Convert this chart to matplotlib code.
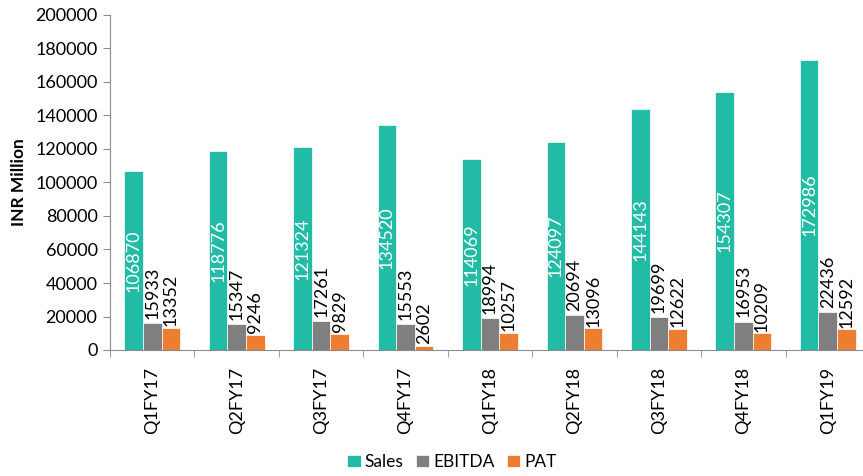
import matplotlib
matplotlib.use("Agg")
import matplotlib.pyplot as plt
import numpy as np

# ── Data ─────────────────────────────────────────────────────────────────────
quarters = ["Q1FY17", "Q2FY17", "Q3FY17", "Q4FY17", "Q1FY18",
            "Q2FY18", "Q3FY18", "Q4FY18", "Q1FY19"]
sales = [106870, 118776, 121324, 134520, 114069, 124097, 144143, 154307, 172986]
ebitda = [15933, 15347, 17261, 15553, 18994, 20694, 19699, 16953, 22436]
pat = [13352, 9246, 9829, 2602, 10257, 13096, 12622, 10209, 12592]

SALES_COLOR = "#21BBA6"
EBITDA_COLOR = "#7F7F7F"
PAT_COLOR = "#ED7D31"
AXIS_COLOR = "#8C8C8C"

plt.rcParams["font.family"] = ["Lato", "DejaVu Sans"]

fig = plt.figure(figsize=(8.63, 4.76), dpi=100)
# plot area runs slightly past the right edge, as in the reference
ax = fig.add_axes([110 / 863, 126 / 476, 760 / 863, 335 / 476])

x = np.arange(len(quarters))
w = 0.22

b1 = ax.bar(x - w, sales, w, color=SALES_COLOR, edgecolor="white", linewidth=0.5, label="Sales")
b2 = ax.bar(x, ebitda, w, color=EBITDA_COLOR, edgecolor="white", linewidth=0.5, label="EBITDA")
b3 = ax.bar(x + w, pat, w, color=PAT_COLOR, edgecolor="white", linewidth=0.5, label="PAT")

ax.bar_label(b1, labels=[str(v) for v in sales], label_type="center",
             rotation=90, color="white", fontsize=13)
ax.bar_label(b2, labels=[str(v) for v in ebitda], padding=3,
             rotation=90, color="black", fontsize=13)
ax.bar_label(b3, labels=[str(v) for v in pat], padding=1,
             rotation=90, color="black", fontsize=13)

ax.set_ylim(0, 200000)
ax.set_yticks(np.arange(0, 200001, 20000))
ax.set_xlim(-0.5, len(quarters) - 0.5)

# category labels at centers, tick marks at boundaries
ax.set_xticks(x)
ax.set_xticklabels(quarters, rotation=90, fontsize=13)
ax.tick_params(axis="x", which="major", length=0, pad=12)
ax.set_xticks(np.arange(-0.5, len(quarters)), minor=True)
ax.tick_params(axis="x", which="minor", length=5, color=AXIS_COLOR, direction="out")
ax.tick_params(axis="y", length=5, color=AXIS_COLOR, labelsize=13, pad=4)

ax.set_ylabel("INR Million", fontsize=12.5, fontweight="bold", labelpad=6)

for side in ["top", "right"]:
    ax.spines[side].set_visible(False)
for side in ["left", "bottom"]:
    ax.spines[side].set_color(AXIS_COLOR)

fig.legend(handles=[b1, b2, b3], loc="center", bbox_to_anchor=(452 / 863, 1 - 462 / 476),
           ncol=3, frameon=False, fontsize=12.5, handlelength=0.75, handleheight=0.75,
           handletextpad=0.25, columnspacing=0.7)

fig.savefig("out.png", dpi=100)
